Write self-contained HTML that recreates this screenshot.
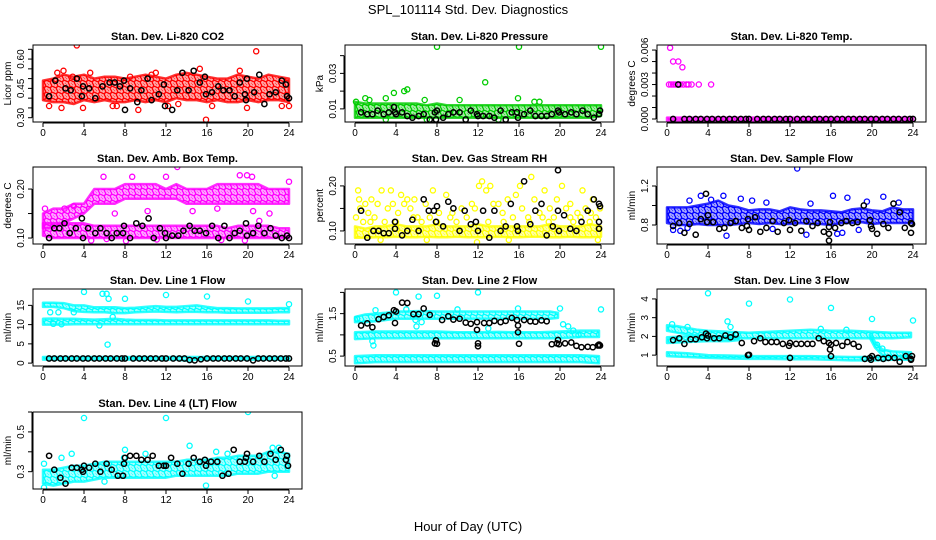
<!DOCTYPE html>
<html><head><meta charset="utf-8"><style>
html,body{margin:0;padding:0;background:#fff;}
svg{display:block;font-family:"Liberation Sans",sans-serif;}
</style></head><body>
<svg id="chart" width="936" height="540" viewBox="0 0 936 540" xmlns="http://www.w3.org/2000/svg">
<defs id="defs"></defs>
<text x="468" y="14" text-anchor="middle" font-size="13">SPL_101114  Std. Dev. Diagnostics</text>
<text x="468" y="531" text-anchor="middle" font-size="13">Hour of Day (UTC)</text>
</svg>
<script>
const HOURS=[0,1,2,3,4,5,6,7,8,9,10,11,12,13,14,15,16,17,18,19,20,21,22,23,24];
const xTicks=[0,4,8,12,16,20,24];

const co2Lo=[0.39,0.38,0.38,0.37,0.39,0.38,0.39,0.38,0.38,0.39,0.38,0.39,0.38,0.40,0.39,0.39,0.38,0.39,0.38,0.38,0.39,0.38,0.39,0.39,0.38];
const co2Hi=[0.49,0.50,0.52,0.51,0.52,0.50,0.51,0.51,0.50,0.51,0.52,0.51,0.50,0.52,0.53,0.52,0.51,0.50,0.50,0.52,0.51,0.50,0.52,0.51,0.50];
const co2Pts=[[3.3,0.67],[1.4,0.53],[2.0,0.54],[4.6,0.53],[15.3,0.55],[20.8,0.64],[0.6,0.36],[1.8,0.35],[3.9,0.35],[7.2,0.36],[9.3,0.34],[13.2,0.37],[15.9,0.29],[16.5,0.36],[19.9,0.35],[23.3,0.36],[24,0.36],[8.5,0.51],[10.6,0.52],[12.2,0.36],[19.2,0.54],[6.8,0.36],[2.9,0.51],[11,0.53]];
const co2Blk=[[0.6,0.41],[1.2,0.49],[2.2,0.45],[2.7,0.44],[3.3,0.50],[3.8,0.41],[3.9,0.46],[4.5,0.45],[5.1,0.40],[5.8,0.46],[6.5,0.48],[7.0,0.48],[7.5,0.46],[7.9,0.49],[8.0,0.34],[8.5,0.45],[9.2,0.38],[9.6,0.44],[10.2,0.50],[10.6,0.39],[11.3,0.42],[11.8,0.47],[11.9,0.36],[12.6,0.34],[13.1,0.44],[13.6,0.53],[14.2,0.44],[14.7,0.54],[15.3,0.48],[15.9,0.42],[15.8,0.51],[16.5,0.43],[17.1,0.46],[17.6,0.44],[18.2,0.44],[18.7,0.41],[19.2,0.48],[19.7,0.42],[19.8,0.39],[19.9,0.50],[20.6,0.43],[21.1,0.52],[21.6,0.37],[22.1,0.42],[22.7,0.43],[23.3,0.49],[23.7,0.47],[23.8,0.41],[24,0.40]];

const presLo=[0.005,0.005,0.005,0.005,0.005,0.005,0.005,0.005,0.005,0.005,0.005,0.005,0.005,0.005,0.005,0.005,0.005,0.005,0.005,0.005,0.005,0.005,0.005,0.005,0.006];
const presHi=[0.014,0.013,0.013,0.013,0.013,0.013,0.013,0.012,0.013,0.012,0.012,0.012,0.012,0.012,0.012,0.012,0.012,0.012,0.012,0.012,0.012,0.012,0.012,0.012,0.012];
const presPts=[[8,0.045],[16,0.045],[24,0.045],[12.7,0.025],[3.8,0.019],[4.8,0.020],[5.1,0.021],[1,0.016],[3,0.016],[10.2,0.015],[15.9,0.016],[6.8,0.015],[1.4,0.015],[17.5,0.014],[18,0.014],[0.1,0.014],[3,0.004],[7,0.004],[14,0.004]];
const presBlk=[[0.6,0.008],[1.2,0.007],[1.7,0.007],[2.2,0.009],[2.8,0.007],[3.3,0.008],[3.8,0.011],[3.9,0.008],[4.0,0.007],[4.6,0.008],[5.1,0.006],[5.6,0.005],[6.2,0.006],[6.7,0.007],[7.3,0.004],[7.8,0.008],[7.9,0.004],[8.0,0.009],[8.6,0.005],[9.1,0.007],[9.6,0.008],[10.2,0.008],[10.8,0.004],[11.3,0.009],[11.9,0.007],[12,0.006],[12.5,0.006],[13.1,0.006],[13.6,0.005],[14.2,0.009],[14.7,0.004],[15.3,0.008],[15.8,0.008],[15.9,0.005],[16.5,0.007],[17.1,0.009],[17.6,0.006],[18.2,0.006],[18.7,0.006],[19.2,0.007],[19.8,0.009],[19.9,0.008],[20.5,0.007],[21.1,0.008],[21.6,0.007],[22.2,0.009],[22.7,0.007],[23.3,0.005],[23.8,0.007],[23.9,0.009]];

const tempLo=[-0.00012,-0.00012,-0.00012,-0.00012,-0.00012,-0.00012,-0.00012,-0.00012,-0.00012,-0.00012,-0.00012,-0.00012,-0.00012,-0.00012,-0.00012,-0.00012,-0.00012,-0.00012,-0.00012,-0.00012,-0.00012,-0.00012,-0.00012,-0.00012,-0.00012];
const tempHi=[0.00012,0.00012,0.00012,0.00012,0.00012,0.00012,0.00012,0.00012,0.00012,0.00012,0.00012,0.00012,0.00012,0.00012,0.00012,0.00012,0.00012,0.00012,0.00012,0.00012,0.00012,0.00012,0.00012,0.00012,0.00012];
const tempPts=[[0.2,0.003],[0.4,0.003],[0.6,0.003],[0.8,0.003],[1.0,0.003],[1.3,0.003],[1.6,0.003],[1.9,0.003],[2.1,0.003],[2.4,0.003],[3.1,0.003],[4.3,0.003],[0.3,0.0062],[0.6,0.005],[1.1,0.005],[1.5,0.0045]];
const tempBlk=[[0.6,0],[1.1,0.003],[1.7,0],[2.2,0],[2.8,0],[3.3,0],[3.9,0],[4.4,0],[5.0,0],[5.5,0],[6.1,0],[6.6,0],[7.2,0],[7.7,0],[8.0,0],[8.8,0],[9.4,0],[9.9,0],[10.5,0],[11.0,0],[11.6,0],[12.0,0],[12.7,0],[13.3,0],[13.8,0],[14.4,0],[14.9,0],[15.5,0],[16.0,0],[16.6,0],[17.1,0],[17.7,0],[18.2,0],[18.8,0],[19.3,0],[19.9,0],[20.4,0],[21.0,0],[21.5,0],[22.1,0],[22.6,0],[23.2,0],[23.7,0],[24,0]];

const ambULo=[0.12,0.12,0.13,0.14,0.15,0.17,0.17,0.17,0.18,0.18,0.18,0.18,0.18,0.18,0.17,0.17,0.17,0.17,0.17,0.17,0.17,0.17,0.17,0.17,0.17];
const ambUHi=[0.15,0.16,0.16,0.17,0.17,0.20,0.20,0.20,0.21,0.21,0.21,0.21,0.20,0.21,0.20,0.20,0.20,0.21,0.21,0.21,0.21,0.21,0.20,0.20,0.20];
const ambLLo=[0.105,0.10,0.10,0.10,0.10,0.10,0.10,0.10,0.10,0.10,0.10,0.10,0.10,0.10,0.10,0.10,0.10,0.10,0.10,0.10,0.10,0.10,0.10,0.10,0.10];
const ambLHi=[0.13,0.13,0.13,0.13,0.13,0.125,0.125,0.125,0.125,0.125,0.125,0.125,0.125,0.125,0.125,0.125,0.125,0.125,0.12,0.125,0.125,0.125,0.125,0.12,0.12];
const ambPts=[[13.1,0.245],[8.7,0.225],[5.9,0.225],[12,0.225],[19.2,0.228],[19.9,0.228],[20.4,0.225],[24,0.215],[0.2,0.16],[2.1,0.16],[10.2,0.155],[14.6,0.155],[17,0.16],[20.5,0.155],[22.1,0.15],[7,0.15],[4.7,0.095],[8.1,0.094],[19.7,0.095],[6.2,0.098],[0.6,0.1],[11.1,0.097],[17.4,0.096],[3,0.165],[21.1,0.135]];
const ambBlk=[[0.6,0.10],[1.1,0.12],[1.6,0.12],[2.1,0.13],[2.6,0.11],[3.2,0.12],[3.8,0.14],[3.9,0.10],[4.4,0.12],[5.1,0.11],[5.6,0.12],[6.2,0.11],[6.7,0.10],[7.2,0.11],[7.8,0.11],[7.9,0.125],[8.5,0.10],[9.1,0.13],[9.7,0.125],[10.3,0.14],[10.8,0.10],[11.4,0.12],[11.9,0.11],[12,0.10],[12.6,0.105],[13.2,0.105],[13.7,0.115],[14.3,0.125],[14.8,0.115],[15.3,0.115],[15.9,0.11],[16.5,0.125],[17.1,0.10],[17.7,0.125],[18.2,0.10],[18.7,0.11],[19.2,0.115],[19.8,0.13],[19.9,0.105],[20.5,0.11],[21,0.125],[21.6,0.11],[22.2,0.12],[22.7,0.105],[23.3,0.10],[23.8,0.105],[24,0.10]];

const rhLo=[0.085,0.085,0.086,0.086,0.087,0.086,0.086,0.087,0.086,0.086,0.087,0.086,0.086,0.086,0.087,0.086,0.086,0.087,0.087,0.086,0.086,0.087,0.086,0.086,0.087];
const rhHi=[0.11,0.105,0.11,0.11,0.115,0.11,0.11,0.11,0.115,0.11,0.11,0.11,0.115,0.11,0.11,0.11,0.11,0.11,0.11,0.115,0.11,0.11,0.11,0.115,0.11];
const rhPts=[[0.1,0.13],[0.3,0.19],[0.4,0.17],[0.5,0.15],[0.8,0.12],[1.0,0.16],[1.3,0.14],[1.6,0.17],[1.9,0.13],[2.2,0.16],[2.6,0.19],[2.9,0.12],[3.2,0.15],[3.5,0.19],[3.7,0.16],[4.2,0.14],[4.5,0.18],[4.8,0.16],[5.1,0.17],[5.4,0.15],[5.8,0.17],[6.1,0.13],[6.5,0.12],[6.9,0.16],[7.3,0.13],[7.6,0.19],[8.2,0.14],[8.9,0.18],[9.3,0.13],[9.9,0.12],[10.4,0.15],[10.9,0.13],[11.4,0.16],[11.7,0.15],[12.1,0.2],[12.4,0.21],[12.8,0.19],[13.2,0.2],[13.5,0.16],[14,0.16],[14.4,0.14],[14.9,0.17],[15.4,0.13],[15.7,0.18],[16.1,0.2],[16.3,0.15],[16.9,0.13],[17.2,0.22],[17.5,0.17],[18,0.14],[18.5,0.19],[18.9,0.12],[19.4,0.13],[19.7,0.17],[20.2,0.2],[20.6,0.15],[21,0.13],[21.3,0.12],[21.7,0.14],[22.2,0.19],[22.5,0.15],[22.9,0.12],[23.2,0.17],[23.5,0.13],[23.9,0.15],[11.9,0.075],[7,0.08],[2.5,0.08],[15,0.08],[23.7,0.08],[8,0.12],[4,0.12],[13,0.12],[17,0.12],[21,0.16],[19,0.15],[1.5,0.12],[5.7,0.13],[9.5,0.14],[14.5,0.12],[18.3,0.13],[22,0.13],[23,0.14]];
const rhBlk=[[1.2,0.085],[0.6,0.145],[1.8,0.10],[2.3,0.10],[2.8,0.095],[3.3,0.095],[3.9,0.12],[3.9,0.105],[4.6,0.09],[5.1,0.10],[5.6,0.125],[6.2,0.10],[6.7,0.17],[7.2,0.145],[7.7,0.145],[7.9,0.12],[8.0,0.155],[8.6,0.11],[9.1,0.165],[9.6,0.15],[10.2,0.10],[10.7,0.145],[11.3,0.115],[11.8,0.12],[12,0.10],[12.5,0.145],[13.1,0.085],[13.6,0.145],[14.2,0.10],[14.7,0.11],[15.2,0.16],[15.8,0.11],[15.9,0.10],[16.5,0.21],[17.1,0.115],[17.6,0.145],[18.2,0.16],[18.7,0.09],[19.3,0.11],[19.8,0.235],[19.8,0.145],[19.9,0.10],[20.4,0.135],[21,0.105],[21.6,0.10],[22.1,0.12],[22.7,0.145],[23.3,0.17],[23.8,0.16],[23.8,0.12],[23.8,0.105],[23.9,0.155]];

const flowLo=[0.82,0.80,0.80,0.81,0.80,0.80,0.80,0.81,0.82,0.81,0.82,0.81,0.81,0.82,0.81,0.81,0.80,0.82,0.82,0.83,0.81,0.82,0.82,0.82,0.82];
const flowHi=[0.98,0.98,0.98,1.0,1.02,1.05,1.0,0.98,0.95,0.96,0.96,0.94,0.98,0.96,0.95,0.95,0.94,0.93,0.96,0.97,0.95,0.94,0.98,0.96,0.96];
const flowPts=[[12.7,1.38],[7.2,1.07],[8.3,1.05],[16.2,1.10],[17.6,1.08],[21.1,1.09],[3.3,1.10],[5.5,1.1],[0.6,0.75],[1.3,0.74],[5.8,0.69],[13.6,0.70],[16.6,0.71],[17.1,0.72],[18.7,0.75],[2,0.77],[10.3,0.76],[2.2,1.05],[4.3,1.06],[9.7,1.03],[14,1.02],[19.5,1.04],[22.6,1.03]];
const flowBlk=[[0.6,0.79],[1.2,0.82],[1.7,0.72],[2.2,0.81],[2.8,0.70],[3.3,0.86],[3.8,1.12],[3.9,0.83],[4.0,0.90],[4.5,0.83],[5.1,0.76],[5.6,0.77],[6.2,0.82],[6.7,0.84],[7.3,0.77],[7.8,0.79],[7.9,0.86],[8.0,0.75],[8.6,0.88],[9.1,0.73],[9.7,0.77],[10.3,0.84],[10.8,0.73],[11.4,0.82],[11.9,0.85],[12,0.75],[12.5,0.82],[13.1,0.74],[13.6,0.84],[14.2,0.79],[14.7,0.82],[15.3,0.73],[15.8,0.78],[15.9,0.83],[15.8,0.71],[15.8,0.64],[16.4,0.77],[17,0.82],[17.5,0.84],[18.1,0.82],[18.6,0.83],[19.2,1.0],[19.8,0.85],[19.9,0.79],[20.0,0.76],[20.5,0.71],[21.1,0.81],[21.6,0.77],[22.1,1.02],[22.7,0.93],[23.2,0.77],[23.8,0.82],[23.9,0.81],[23.8,0.72]];

const l1TopLo=[14.6,14.6,14.3,13.5,13.3,13.2,13.2,13.0,13.0,13.2,13.3,13.4,13.3,13.2,13.3,13.3,13.2,13.2,13.1,13.1,13.1,13.1,13.1,13.2,13.2];
const l1TopHi=[15.7,15.7,15.6,15.0,15.0,14.5,14.5,14.5,14.3,14.4,14.6,14.8,14.6,14.6,14.8,15.0,14.6,14.3,14.3,14.2,14.2,14.2,14.2,14.3,14.3];
const l1MidLo=[10.0,10.0,10.0,10.1,10.1,10.1,10.1,10.1,10.1,10.1,10.1,10.1,10.1,10.1,10.1,10.1,10.1,10.1,10.1,10.1,10.1,10.1,10.1,10.1,10.1];
const l1MidHi=[11.5,11.6,11.5,11.5,11.4,11.3,11.4,11.5,11.3,11.2,11.2,11.2,11.1,11.1,11.1,11.1,11.1,11.1,11.1,11.1,11.1,11.1,11.1,11.0,11.0];
const l1BotLo=[0.9,0.9,0.9,0.9,0.9,0.9,0.9,0.9,0.9,0.9,0.9,0.9,0.9,0.9,0.6,0.9,0.9,0.9,0.9,0.9,0.9,0.9,0.9,0.9,0.9];
const l1BotHi=[1.6,1.6,1.6,1.6,1.6,1.6,1.6,1.6,1.6,1.6,1.6,1.6,1.6,1.6,1.6,1.6,1.6,1.6,1.6,1.6,1.6,1.6,1.6,1.6,1.6];
const l1Pts=[[4,18.5],[5.8,18],[6.2,18],[6.4,16.7],[8,16.7],[12,17.7],[16,17.3],[20,16],[24,15.3],[6.3,4.8],[5.5,9.8],[6.8,12],[1.5,13.2],[0.7,13.2],[3,13.2],[1,10.2],[1.8,10.1]];
const l1Blk=[[0.6,1.2],[1.1,1.2],[1.7,1.2],[2.2,1.2],[2.8,1.2],[3.3,1.2],[3.9,1.2],[4.4,1.2],[5.0,1.2],[5.5,1.2],[6.1,1.2],[6.6,1.2],[7.2,1.2],[7.7,1.2],[8.0,1.2],[8.8,1.2],[9.4,1.2],[9.9,1.2],[10.5,1.2],[11.0,1.2],[11.6,1.2],[12.0,1.2],[12.7,1.2],[13.3,1.2],[13.8,1.2],[14.3,0.8],[14.8,0.7],[15.4,1.0],[16.0,1.2],[16.6,1.2],[17.1,1.2],[17.7,1.2],[18.2,1.2],[18.8,1.2],[19.3,1.2],[19.9,1.2],[20.5,0.7],[21.0,1.2],[21.5,1.2],[22.1,1.2],[22.6,1.2],[23.2,1.2],[23.7,1.2],[24,1.2]];

const l2Top=[[0,1.3,1.42],[1,1.3,1.48],[2,1.32,1.5],[3,1.35,1.52],[4,1.38,1.55],[5,1.38,1.55],[6,1.38,1.56],[7,1.38,1.56],[8,1.38,1.55],[9,1.38,1.55],[10,1.38,1.55],[11,1.38,1.55],[12,1.38,1.55],[13,1.38,1.55],[14,1.38,1.55],[15,1.38,1.55],[16,1.38,1.55],[17,1.38,1.55],[18,1.38,1.55],[19,1.38,1.55],[19.8,1.4,1.52]];
const l2Mid=[[0,0.9,1.06],[2,0.92,1.08],[4,0.92,1.08],[6,0.92,1.08],[8,0.92,1.08],[10,0.92,1.06],[12,0.92,1.06],[14,0.92,1.07],[16,0.92,1.06],[18,0.92,1.06],[20,0.92,1.08],[22,0.95,1.1],[23.8,0.95,1.1]];
const l2Bot=[[0,0.33,0.5],[2,0.36,0.52],[4,0.36,0.52],[6,0.36,0.52],[8,0.36,0.52],[10,0.36,0.52],[12,0.36,0.52],[14,0.36,0.52],[16,0.36,0.52],[18,0.36,0.52],[20,0.36,0.52],[22,0.36,0.52],[23.8,0.33,0.5]];
const l2Pts=[[4,2.0],[6.2,1.9],[8,1.92],[12,2.0],[24,1.6],[1.8,0.75],[1.7,0.85],[20.3,1.25],[20.8,1.2],[21.3,1.1],[21.8,1.0],[13,1.15],[6,1.2],[2,1.58],[5,1.6],[10,1.6],[15.9,1.62],[20,1.62],[0.2,1.38],[5.9,1.35],[6.5,1.3]];
const l2Blk=[[0.6,1.22],[1.2,1.27],[1.7,1.18],[2.3,1.37],[2.8,1.42],[3.3,1.46],[3.8,1.58],[3.9,1.28],[4.0,1.55],[4.6,1.76],[5.1,1.75],[5.7,1.49],[6.2,1.49],[6.7,1.62],[7.3,1.47],[7.8,0.8],[7.9,0.87],[8.0,0.79],[8.5,1.35],[9.1,1.44],[9.6,1.36],[10.2,1.38],[10.8,1.29],[11.3,1.26],[11.9,1.3],[11.9,1.12],[12,0.8],[12,0.73],[12.6,1.28],[13.1,1.28],[13.6,1.33],[14.2,1.3],[14.7,1.33],[15.3,1.4],[15.8,1.35],[15.9,1.22],[15.9,1.06],[16,0.79],[16.5,1.35],[17.1,1.32],[17.6,1.31],[18.2,1.34],[18.7,1.32],[19.2,0.78],[19.7,0.8],[19.8,0.88],[19.9,0.78],[20.5,0.8],[21.1,0.82],[21.6,0.74],[22.1,0.71],[22.7,0.72],[23.2,0.71],[23.7,0.75],[23.8,0.77],[23.9,0.75]];

const l3Top=[[0,2.3,2.6],[1,2.2,2.55],[2,2.1,2.45],[3,2.05,2.35],[4,2.0,2.3],[6,1.9,2.25],[8,1.9,2.2],[10,1.9,2.25],[12,1.9,2.3],[14,1.9,2.35],[16,1.9,2.3],[18,1.9,2.3],[20,1.9,2.25],[22,1.9,2.2],[23.8,1.95,2.2]];
const l3Low=[[0,1.65,1.95],[2,1.7,2.0],[4,1.75,2.0],[6,1.75,2.0],[7,1.8,2.0]];
const l3Bot=[[0,0.95,1.15],[2,0.9,1.1],[4,0.85,1.0],[6,0.82,0.98],[8,0.8,0.95],[10,0.8,0.95],[12,0.78,0.95],[14,0.78,0.95],[16,0.75,0.92],[18,0.72,0.9],[20,0.72,0.9],[22,0.75,0.95],[23.8,0.75,0.95]];
const l3Drop=[[19.8,1.9,2.1],[20.3,1.4,1.7],[21,1.0,1.3],[22,0.95,1.2],[23.8,0.95,1.15]];
const l3Pts=[[4,4.3],[8,3.75],[12,3.97],[16,3.52],[20,2.93],[24,2.85],[5.9,2.8],[6.2,2.5],[20.5,1.55],[21,1.35],[0.5,2.65],[2,2.5],[15,2.4],[17.5,2.35]];
const l3Blk=[[0.6,1.8],[1.2,1.9],[1.7,1.6],[2.3,1.85],[2.8,1.85],[3.4,1.95],[3.8,2.15],[3.9,1.9],[4.0,2.05],[4.6,1.9],[5.1,1.9],[5.7,2.05],[6.2,1.95],[6.7,2.1],[7.3,1.65],[7.9,1.0],[8,1.02],[8.5,1.75],[9.1,1.9],[9.6,1.7],[10.2,1.7],[10.7,1.7],[11.3,1.6],[11.9,1.5],[12,1.65],[12,0.85],[12.6,1.6],[13.1,1.6],[13.7,1.6],[14.2,1.6],[14.8,1.9],[15.3,1.75],[15.8,1.65],[15.9,1.3],[16,0.95],[16,1.55],[16.5,1.65],[17.1,1.5],[17.6,1.7],[18.2,1.6],[18.7,1.45],[19.3,0.8],[19.8,0.85],[19.9,0.75],[20,0.95],[20.6,0.85],[21.1,0.8],[21.6,0.85],[22.2,0.85],[22.7,0.65],[23.3,0.95],[23.8,0.8],[23.9,0.95],[23.8,0.75]];

const l4Lo=[0.24,0.23,0.24,0.25,0.25,0.26,0.27,0.27,0.27,0.27,0.27,0.27,0.27,0.28,0.28,0.28,0.28,0.28,0.28,0.29,0.29,0.29,0.30,0.30,0.30];
const l4Hi=[0.31,0.31,0.32,0.33,0.33,0.34,0.35,0.35,0.35,0.35,0.35,0.35,0.35,0.35,0.36,0.36,0.36,0.37,0.37,0.38,0.38,0.38,0.40,0.40,0.39];
const l4Pts=[[4,0.57],[12,0.57],[20,0.6],[14.3,0.43],[8,0.41],[2.8,0.39],[1.8,0.37],[0.1,0.34],[16.9,0.40],[7.9,0.37],[15.9,0.23],[0.1,0.22],[6,0.25],[22.6,0.28],[22.4,0.42],[23,0.42],[10,0.39],[18,0.39]];
const l4Blk=[[0.6,0.38],[1.1,0.31],[1.7,0.27],[2.2,0.24],[2.8,0.32],[3.3,0.32],[3.8,0.31],[3.9,0.3],[4.0,0.33],[4.5,0.32],[5.1,0.34],[5.6,0.3],[6.2,0.34],[6.7,0.31],[7.3,0.28],[7.8,0.28],[7.9,0.34],[8.0,0.37],[8.5,0.38],[9.1,0.38],[9.6,0.36],[10.2,0.36],[10.7,0.38],[11.3,0.33],[11.8,0.33],[12,0.33],[12.5,0.37],[13.1,0.34],[13.6,0.29],[14.2,0.34],[14.7,0.37],[15.3,0.35],[15.8,0.36],[15.9,0.33],[16.4,0.35],[17,0.35],[17.5,0.28],[18.1,0.29],[18.6,0.41],[19.2,0.35],[19.7,0.35],[19.8,0.37],[19.9,0.39],[20.5,0.35],[21.1,0.38],[21.6,0.35],[22.2,0.39],[22.7,0.36],[23.2,0.41],[23.7,0.36],[23.8,0.38],[23.9,0.33]];

function hb(lo,hi){return HOURS.map((h,i)=>[h,lo[i],hi[i]]);}

const panels=[
 {name:'co2',title:'Stan. Dev. Li-820 CO2',ylab:'Licor ppm',col:'#ff0000',r:0,c:0,ymin:0.278,ymax:0.672,ticks:[0.30,0.35,0.40,0.45,0.50,0.55,0.60,0.65],labels:[0.30,0.45,0.60],dec:2,bands:[hb(co2Lo,co2Hi)],pts:co2Pts,blk:co2Blk},
 {name:'pressure',title:'Stan. Dev. Li-820 Pressure',ylab:'kPa',col:'#00cc00',r:0,c:1,ymin:0.0026,ymax:0.046,ticks:[0.01,0.02,0.03,0.04],labels:[0.01,0.03],dec:2,bands:[hb(presLo,presHi)],pts:presPts,blk:presBlk},
 {name:'temp',title:'Stan. Dev. Li-820 Temp.',ylab:'degrees C',col:'#ff00ff',r:0,c:2,ymin:-0.00026,ymax:0.00644,ticks:[0,0.001,0.002,0.003,0.004,0.005,0.006],labels:[0,0.003,0.006],dec:3,bands:[hb(tempLo,tempHi)],pts:tempPts,blk:tempBlk},
 {name:'amb-box-temp',title:'Stan. Dev. Amb. Box Temp.',ylab:'degrees C',col:'#ff00ff',r:1,c:0,ymin:0.0878,ymax:0.245,ticks:[0.10,0.15,0.20],labels:[0.10,0.20],dec:2,bands:[hb(ambULo,ambUHi),hb(ambLLo,ambLHi)],pts:ambPts,blk:ambBlk},
 {name:'gas-rh',title:'Stan. Dev. Gas Stream RH',ylab:'percent',col:'#ffff00',r:1,c:1,ymin:0.071,ymax:0.242,ticks:[0.10,0.15,0.20],labels:[0.10,0.20],dec:2,bands:[hb(rhLo,rhHi)],pts:rhPts,blk:rhBlk},
 {name:'sample-flow',title:'Stan. Dev. Sample Flow',ylab:'ml/min',col:'#0000ff',r:1,c:2,ymin:0.605,ymax:1.395,ticks:[0.8,1.0,1.2],labels:[0.8,1.2],dec:1,bands:[hb(flowLo,flowHi)],pts:flowPts,blk:flowBlk},
 {name:'line1-flow',title:'Stan. Dev. Line 1 Flow',ylab:'ml/min',col:'#00ffff',r:2,c:0,ymin:-0.75,ymax:19.25,ticks:[0,5,10,15],labels:[0,5,10,15],dec:0,bands:[hb(l1TopLo,l1TopHi),hb(l1MidLo,l1MidHi),hb(l1BotLo,l1BotHi)],pts:l1Pts,blk:l1Blk},
 {name:'line2-flow',title:'Stan. Dev. Line 2 Flow',ylab:'ml/min',col:'#00ffff',r:2,c:1,ymin:0.267,ymax:2.08,ticks:[0.5,1.0,1.5,2.0],labels:[0.5,1.5],dec:1,bands:[l2Top,l2Mid,l2Bot],pts:l2Pts,blk:l2Blk},
 {name:'line3-flow',title:'Stan. Dev. Line 3 Flow',ylab:'ml/min',col:'#00ffff',r:2,c:2,ymin:0.42,ymax:4.53,ticks:[1,2,3,4],labels:[1,2,3,4],dec:0,bands:[l3Top,l3Low,l3Bot,l3Drop],pts:l3Pts,blk:l3Blk},
 {name:'line4-flow',title:'Stan. Dev. Line 4 (LT) Flow',ylab:'ml/min',col:'#00ffff',r:3,c:0,ymin:0.213,ymax:0.60,ticks:[0.3,0.4,0.5,0.6],labels:[0.3,0.5],dec:1,bands:[hb(l4Lo,l4Hi)],pts:l4Pts,blk:l4Blk}
];

const NS='http://www.w3.org/2000/svg';
const svg=document.getElementById('chart');
const defs=document.getElementById('defs');
const colX0=[43,355,667], colW=246;
const rowTop=[45,167,289,412], boxH=77;
function mk(tag,attrs,parent){const e=document.createElementNS(NS,tag);for(const k in attrs)e.setAttribute(k,attrs[k]);parent.appendChild(e);return e;}

const patIds={};
function pattern(col){
  if(patIds[col])return patIds[col];
  const id='pat'+Object.keys(patIds).length;
  const p=mk('pattern',{id:id,width:6,height:6,patternUnits:'userSpaceOnUse'},defs);
  mk('rect',{x:0,y:0,width:6,height:6,fill:col,'fill-opacity':0.35},p);
  mk('circle',{cx:1.5,cy:1.5,r:2.1,fill:'none',stroke:col,'stroke-width':1.3},p);
  mk('circle',{cx:4.5,cy:4.5,r:2.1,fill:'none',stroke:col,'stroke-width':1.3},p);
  patIds[col]=id;return id;
}

panels.forEach(p=>{
  const g=mk('g',{},svg);
  
  
  const x0=colX0[p.c], top=rowTop[p.r], bot=top+boxH;
  const left=x0-10, right=x0+colW+13;
  const X=h=>x0+h/24*colW;
  const Y=v=>bot-(v-p.ymin)/(p.ymax-p.ymin)*boxH;
  const cid='clip-'+p.name;
  const cp=mk('clipPath',{id:cid},g);
  mk('rect',{x:left,y:top,width:right-left,height:boxH},cp);
  const pg=mk('g',{'clip-path':'url(#'+cid+')'},g);
  const pid=pattern(p.col);
  p.bands.forEach(b=>{
    const d=b.map((t,i)=>(i?'L':'M')+X(t[0]).toFixed(1)+','+Y(t[2]).toFixed(1)).join('')+
      b.slice().reverse().map(t=>'L'+X(t[0]).toFixed(1)+','+Y(t[1]).toFixed(1)).join('')+'Z';
    const path=mk('path',{d:d,fill:'url(#'+pid+')',stroke:p.col,'stroke-width':2.5,'stroke-opacity':0.8,'stroke-linejoin':'round'},pg);
    
    
  });
  p.pts.forEach(pt=>{
    const c=mk('circle',{cx:X(pt[0]).toFixed(1),cy:Y(pt[1]).toFixed(1),r:2.6,fill:'none',stroke:p.col,'stroke-width':1.3},pg);
    
    
  });
  p.blk.forEach(pt=>{
    const c=mk('circle',{cx:X(pt[0]).toFixed(1),cy:Y(pt[1]).toFixed(1),r:2.6,fill:'none',stroke:'#000','stroke-width':1.5},pg);
    
    
  });
  const box=mk('rect',{x:left,y:top,width:right-left,height:boxH,fill:'none',stroke:'#000','stroke-width':1},g);
  
  
  const t=mk('text',{x:(left+right)/2,y:top-5,'text-anchor':'middle','font-size':11,'font-weight':'bold'},g);
  t.textContent=p.title;
  
  
  mk('line',{x1:X(0),x2:X(24),y1:bot+1,y2:bot+1,stroke:'#000'},g);
  xTicks.forEach(h=>{
    mk('line',{x1:X(h),x2:X(h),y1:bot+1,y2:bot+5,stroke:'#000'},g);
    const l=mk('text',{x:X(h),y:bot+14,'text-anchor':'middle','font-size':10},g);
    l.textContent=h;
    
    
  });
  mk('line',{x1:left-1,x2:left-1,y1:Y(p.ticks[0]),y2:Y(p.ticks[p.ticks.length-1]),stroke:'#000'},g);
  p.ticks.forEach(v=>{
    mk('line',{x1:left-5,x2:left-1,y1:Y(v),y2:Y(v),stroke:'#000'},g);
  });
  p.labels.forEach(v=>{
    const yy=Y(v), xx=left-9;
    const l=mk('text',{x:xx,y:yy,'text-anchor':'middle','font-size':10,transform:'rotate(-90 '+xx+' '+yy+')'},g);
    l.textContent=v.toFixed(p.dec);
    
    
  });
  const yl=left-22, ym=(top+bot)/2;
  const yt=mk('text',{x:yl,y:ym,'text-anchor':'middle','font-size':10,transform:'rotate(-90 '+yl+' '+ym+')'},g);
  yt.textContent=p.ylab;
  
  
});
</script>
</body></html>
